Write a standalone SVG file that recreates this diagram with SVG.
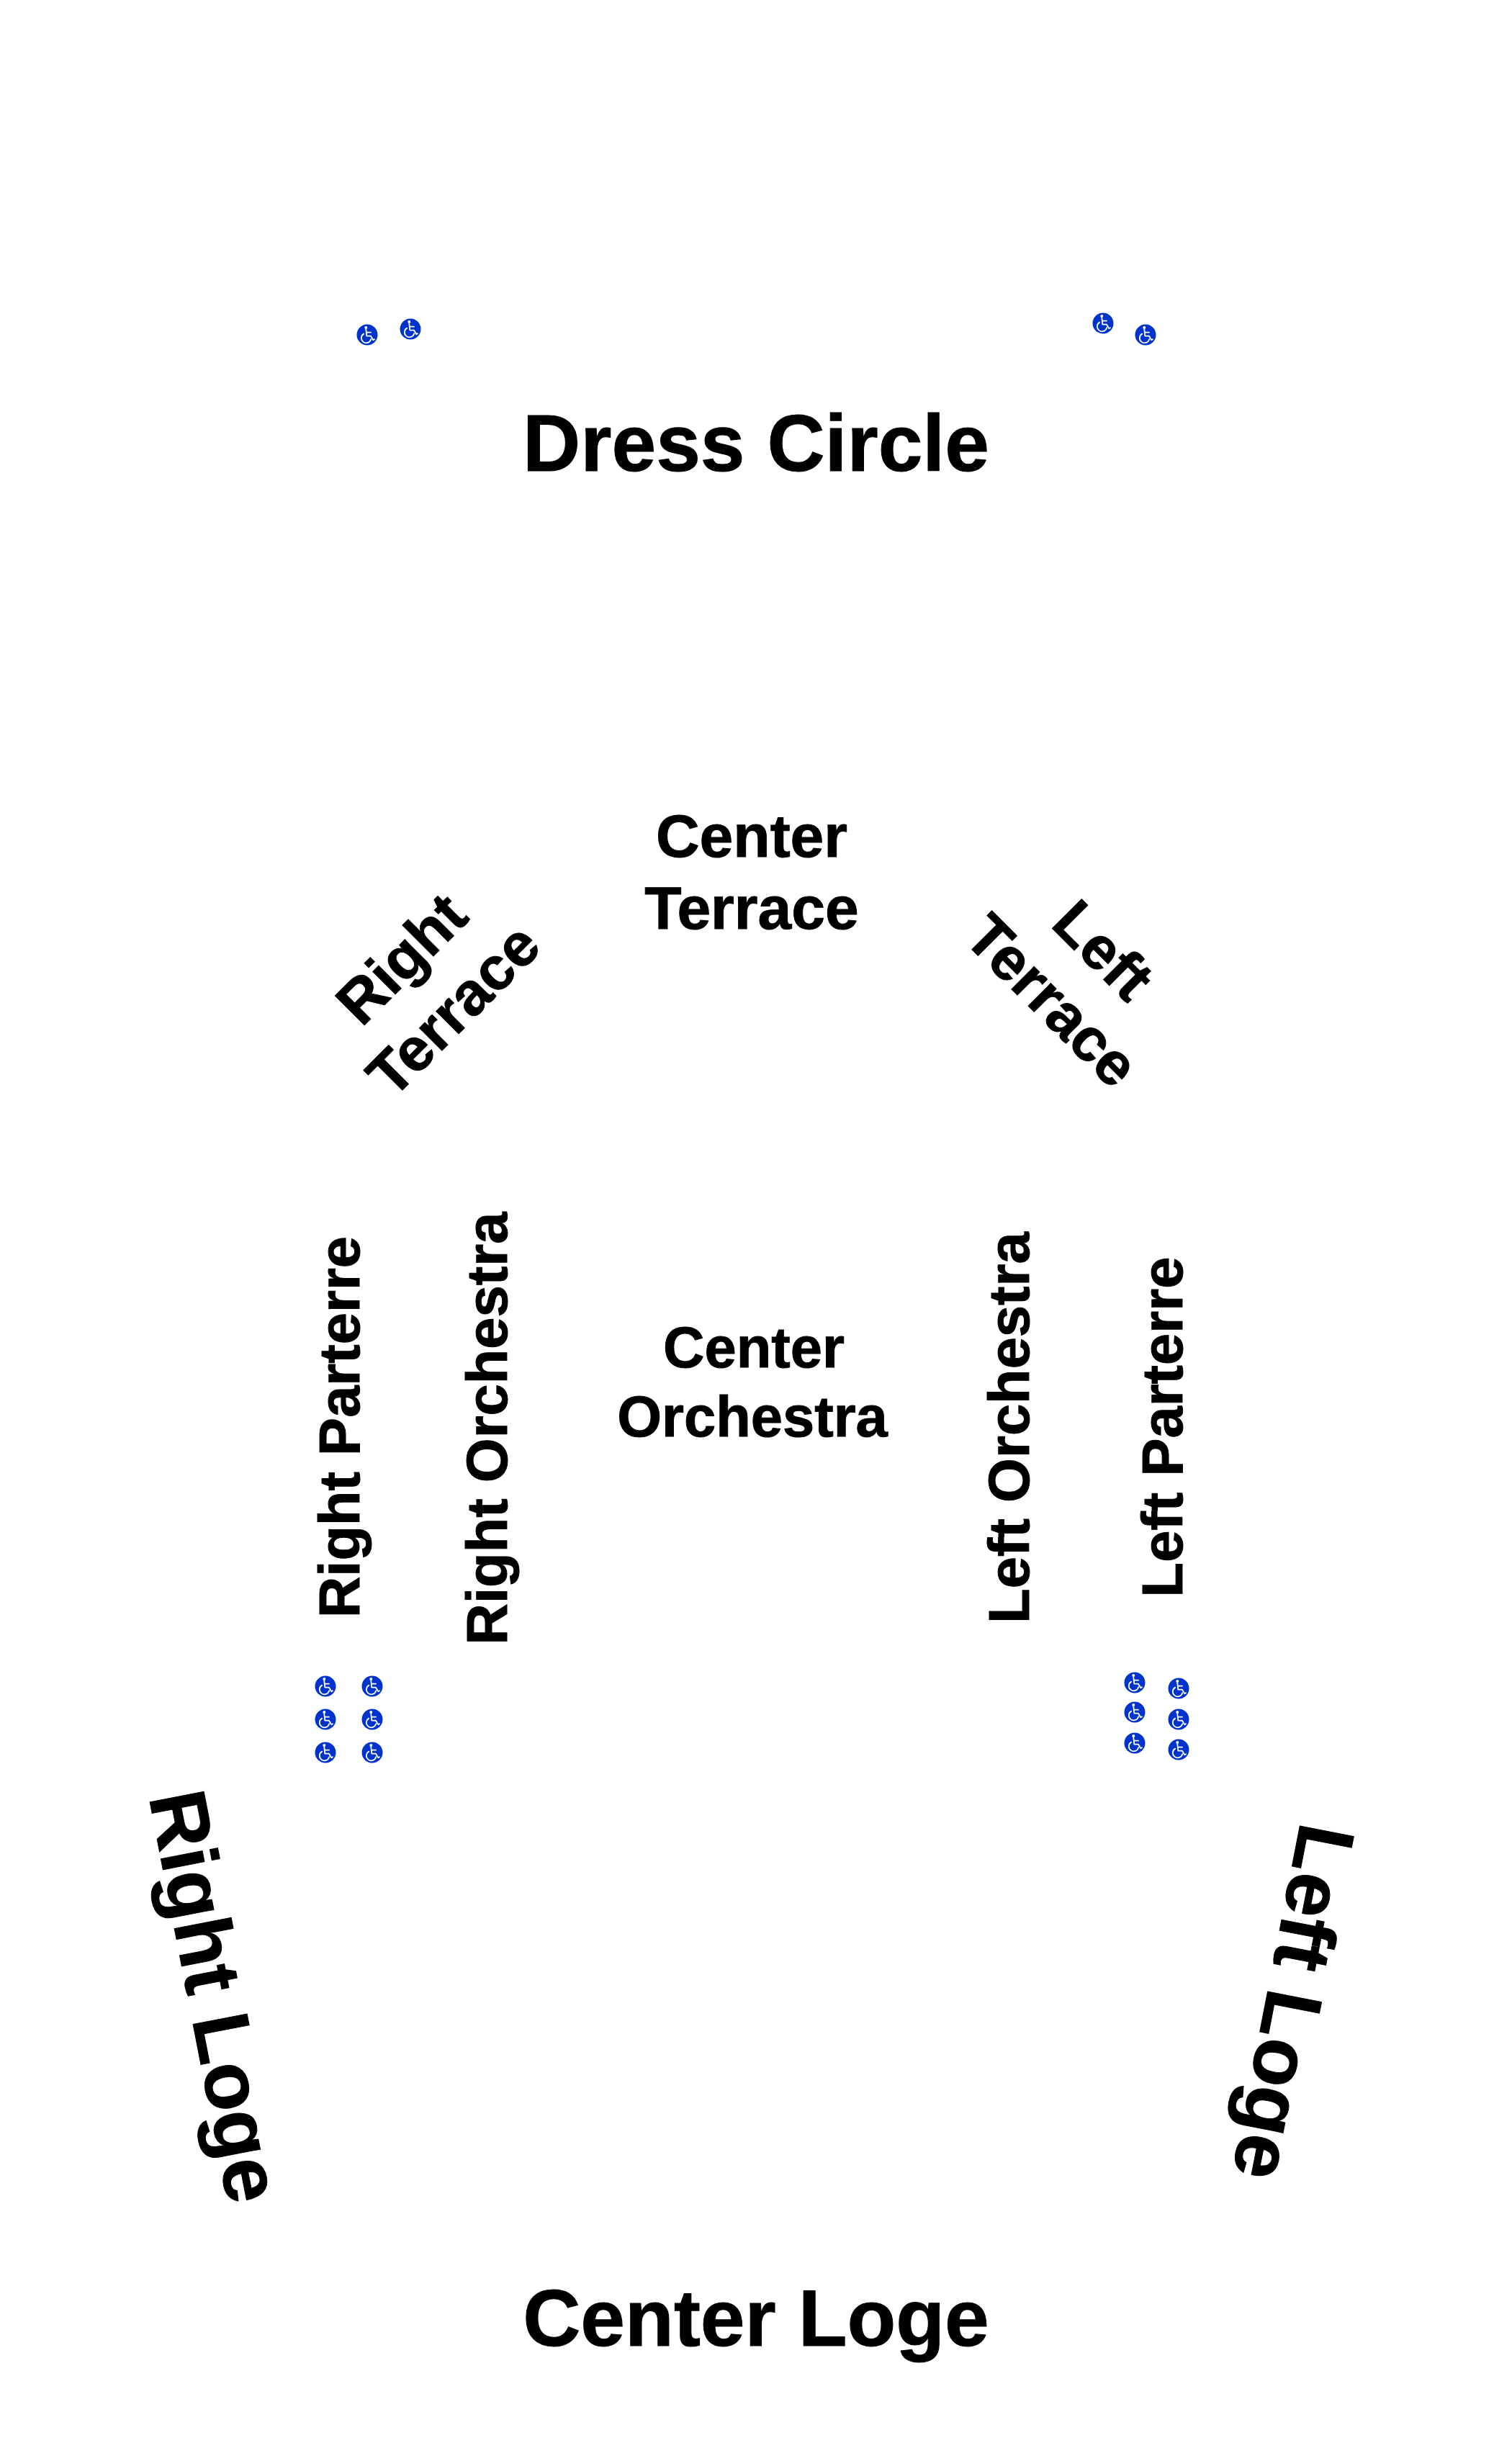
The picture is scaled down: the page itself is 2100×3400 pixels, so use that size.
<svg xmlns="http://www.w3.org/2000/svg" width="2100" height="3400" viewBox="0 0 2100 3400">
<style>
text{font-family:"Liberation Sans",Arial,sans-serif;font-weight:700;fill:#000;stroke:#000;stroke-width:1;text-anchor:middle}
.xl{font-size:111px}.t{font-size:84px}.o{font-size:79.5px}
.ring{fill:#0033cc}
.w{fill:none;stroke:#fff;stroke-width:1.8;stroke-linecap:round;stroke-linejoin:round}
.wf{fill:#fff}
</style>
<defs>
<symbol id="wc" viewBox="-15 -15 30 30" overflow="visible">
<circle class="ring" r="14.5"/>
<circle class="wf" cx="-1.7" cy="-10" r="2"/>
<path class="w" d="M-1.7 -7.7L-0.7 1.7H5L8.3 7.2L10 6.2M-1 -3.3H5"/>
<path class="w" d="M-4.8 -1.4A6.8 6.8 0 1 0 5.2 6.2"/>
</symbol>
</defs>
<g id="labels">
<g id="dress-circle"><text class="xl" x="1050" y="654">Dress Circle</text></g>
<g id="center-terrace"><text class="t" x="1044" y="1190">Center</text><text class="t" x="1044" y="1290">Terrace</text></g>
<g id="right-terrace"><text class="t" transform="translate(578 1352) rotate(-45)">Right</text><text class="t" transform="translate(650 1423) rotate(-45)">Terrace</text></g>
<g id="left-terrace"><text class="t" transform="translate(1512 1340) rotate(45)">Left</text><text class="t" transform="translate(1441 1410) rotate(45)">Terrace</text></g>
<g id="center-orchestra"><text class="o" x="1047" y="1899">Center</text><text class="o" x="1045" y="1995">Orchestra</text></g>
<g id="right-parterre"><text class="o" transform="translate(499 1982) rotate(-90)">Right Parterre</text></g>
<g id="right-orchestra"><text class="o" transform="translate(704 1984) rotate(-90)">Right Orchestra</text></g>
<g id="left-orchestra"><text class="o" transform="translate(1429 1983) rotate(-90)">Left Orchestra</text></g>
<g id="left-parterre"><text class="o" transform="translate(1642 1982) rotate(-90)">Left Parterre</text></g>
<g id="right-loge"><text class="xl" transform="translate(262 2780) rotate(79)">Right Loge</text></g>
<g id="left-loge"><text class="xl" transform="translate(1759 2774) rotate(101)">Left Loge</text></g>
<g id="center-loge"><text class="xl" x="1050" y="3258">Center Loge</text></g>
</g>
<g id="accessible-seats">
<use id="a1" href="#wc" x="495" y="450" width="30" height="30"/>
<use id="a2" href="#wc" x="555" y="442" width="30" height="30"/>
<use id="a3" href="#wc" x="1517" y="434" width="30" height="30"/>
<use id="a4" href="#wc" x="1576" y="450" width="30" height="30"/>
<use id="a5" href="#wc" x="437" y="2327" width="30" height="30"/>
<use id="a6" href="#wc" x="437" y="2373" width="30" height="30"/>
<use id="a7" href="#wc" x="437" y="2419" width="30" height="30"/>
<use id="a8" href="#wc" x="502" y="2327" width="30" height="30"/>
<use id="a9" href="#wc" x="502" y="2373" width="30" height="30"/>
<use id="a10" href="#wc" x="502" y="2419" width="30" height="30"/>
<use id="a11" href="#wc" x="1561" y="2322" width="30" height="30"/>
<use id="a12" href="#wc" x="1561" y="2363" width="30" height="30"/>
<use id="a13" href="#wc" x="1561" y="2406" width="30" height="30"/>
<use id="a14" href="#wc" x="1622" y="2330" width="30" height="30"/>
<use id="a15" href="#wc" x="1622" y="2373" width="30" height="30"/>
<use id="a16" href="#wc" x="1622" y="2415" width="30" height="30"/>
</g>
</svg>
